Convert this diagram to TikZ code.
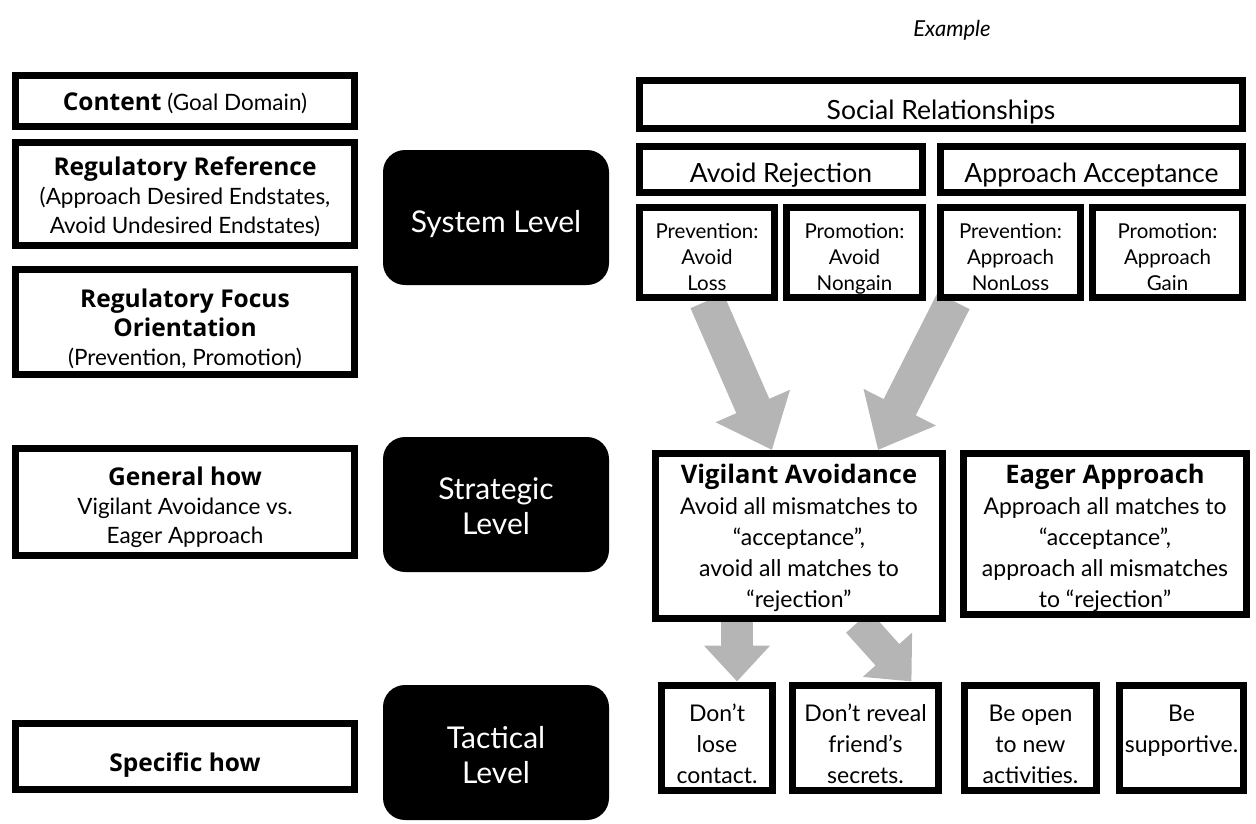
\documentclass[tikz,border=0pt]{standalone}
\usepackage{fontspec}
\setmainfont{Lato}
\newfontfamily\boldfam{Open Sans}
\usetikzlibrary{arrows.meta,positioning,calc}
\pgfdeclarelayer{background}
\pgfsetlayers{background,main}
\definecolor{arrowgray}{RGB}{181,181,181}
\newcommand{\hbl}[1]{{\boldfam\bfseries\fontsize{24.5}{30}\selectfont #1}}
\newcommand{\hbr}[1]{{\boldfam\bfseries\fontsize{25.5}{31}\selectfont #1}}
\newcommand{\dr}{\rule[-7pt]{0pt}{0pt}}
\newcommand{\ur}[1]{\rule{0pt}{#1pt}}
\tikzset{
  box/.style={draw=black, line width=7pt, fill=white, inner sep=0pt, align=center},
  lvl/.style={fill=black, text=white, rounded corners=22pt, inner sep=0pt, align=center,
    minimum width=226pt, minimum height=135pt, font=\fontsize{30}{35}\selectfont},
  lefttxt/.style={font=\fontsize{22.5}{29}\selectfont},
  righttxt/.style={font=\fontsize{23}{31}\selectfont},
  toptxt/.style={font=\fontsize{26.5}{31}\selectfont},
  smalltxt/.style={font=\fontsize{20.5}{26}\selectfont},
  bigarrow/.style={draw=arrowgray, line width=36pt, -{Triangle[length=48pt,width=78pt]}},
  downarrow/.style={draw=arrowgray, line width=32pt, -{Triangle[length=36pt,width=64pt]}}
}
\begin{document}
\begin{tikzpicture}[x=1pt,y=-1pt]
\useasboundingbox (0,0) rectangle (1256,823);

% Example label
\node[font=\fontsize{22}{26}\selectfont\itshape] (ex) at (952,30) {Example};

% left column
\node[box,lefttxt,minimum width=339pt,minimum height=51pt] (content) at (185,101)
  {\ur{26}\hbl{Content} (Goal Domain)\dr};
\node[box,lefttxt,minimum width=339pt,minimum height=103pt] (regref) at (185,194)
  {\ur{28}\hbl{Regulatory Reference}\\(Approach Desired Endstates,\\Avoid Undesired Endstates)\dr};
\node[box,lefttxt,minimum width=339pt,minimum height=105pt] (regfoc) at (185,322)
  {\ur{36}\hbl{Regulatory Focus}\\\hbl{Orientation}\\(Prevention, Promotion)\dr};
\node[box,lefttxt,minimum width=339pt,minimum height=107pt] (general) at (185,502)
  {\ur{32}\hbl{General how}\\Vigilant Avoidance vs.\\Eager Approach\dr};
\node[box,minimum width=339pt,minimum height=66pt] (specific) at (185,756.5) {};
\node[lefttxt] (spectxt) at ([yshift=-9pt]specific.center) {\hbl{Specific how}};

% level boxes
\node[lvl] (system) at (496,217.5) {\ur{37}System Level\dr};
\node[lvl] (strategic) at (496,504.5) {\ur{32}Strategic\\Level\dr};
\node[lvl] (tactical) at (496,752.5) {\ur{33}Tactical\\Level\dr};

% right: system level
\node[box,toptxt,minimum width=603pt,minimum height=48pt] (social) at (941,104.5) {\ur{36}Social Relationships\dr};
\node[box,toptxt,minimum width=283pt,minimum height=46pt] (avrej) at (781,169.5) {\ur{33}Avoid Rejection\dr};
\node[box,toptxt,minimum width=302pt,minimum height=46pt] (apacc) at (1091.5,169.5) {\ur{33}Approach Acceptance\dr};
\node[box,smalltxt,minimum width=135pt,minimum height=88pt] (pl) at (707,252.5) {\ur{31}Prevention:\\Avoid\\Loss\dr};
\node[box,smalltxt,minimum width=136pt,minimum height=88pt] (pn) at (854.5,252.5) {\ur{31}Promotion:\\Avoid\\Nongain\dr};
\node[box,smalltxt,minimum width=140pt,minimum height=88pt] (pan) at (1010.5,252.5) {\ur{31}Prevention:\\Approach\\NonLoss\dr};
\node[box,smalltxt,minimum width=150pt,minimum height=88pt] (pag) at (1167.5,252.5) {\ur{31}Promotion:\\Approach\\Gain\dr};

% strategic level
\node[box,righttxt,minimum width=287pt,minimum height=165pt] (va) at (799,536)
  {\ur{25}\hbr{Vigilant Avoidance}\\Avoid all mismatches to\\“acceptance”,\\avoid all matches to\\“rejection”\dr};
\node[box,righttxt,minimum width=283pt,minimum height=161pt] (ea) at (1105,534)
  {\ur{29}\hbr{Eager Approach}\\Approach all matches to\\“acceptance”,\\approach all mismatches\\to “rejection”\dr};

% tactical level
\node[box,righttxt,minimum width=111pt,minimum height=98pt] (t1) at (717,737.5) {\ur{36}Don’t\\lose\\contact.\dr};
\node[box,righttxt,minimum width=146pt,minimum height=98pt] (t2) at (865.5,737.5) {\ur{36}Don’t reveal\\friend’s\\secrets.\dr};
\node[box,righttxt,minimum width=132pt,minimum height=98pt] (t3) at (1030.5,737.5) {\ur{36}Be open\\to new\\activities.\dr};
\node[box,righttxt,minimum width=124pt,minimum height=98pt] (t4) at (1181.5,737.5) {\ur{36}Be\\supportive.\\\phantom{x}\dr};

% gray arrows
\begin{pgfonlayer}{background}
\draw[bigarrow] (pl.south) -- ([xshift=-27pt]va.north);
\draw[bigarrow] ([xshift=-57pt]pan.south) -- ([xshift=79pt]va.north);
\draw[downarrow] ([xshift=-62pt]va.south) -- ([xshift=20pt]t1.north);
\draw[downarrow] ([xshift=59pt]va.south) -- ([xshift=46pt]t2.north);
\end{pgfonlayer}
\end{tikzpicture}
\end{document}
